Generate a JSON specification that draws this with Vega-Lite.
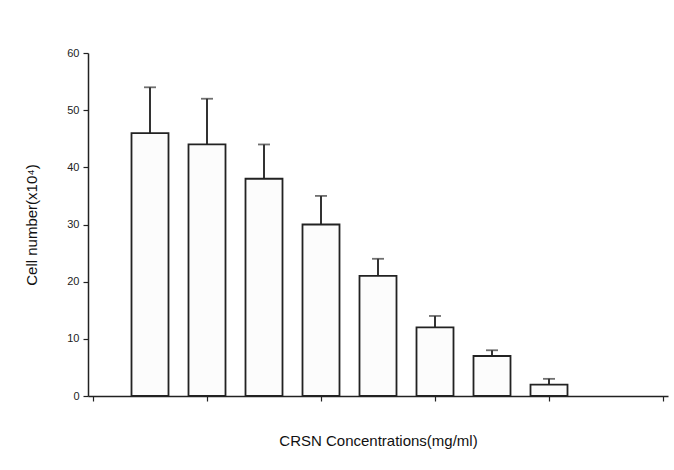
{
  "$schema": "https://vega.github.io/schema/vega-lite/v6.json",
  "width": 580,
  "height": 343,
  "autosize": {"type": "none"},
  "padding": {"left": 88, "top": 53, "right": 6, "bottom": 74},
  "background": "white",
  "config": {
    "view": {"stroke": null},
    "font": "Liberation Sans",
    "axis": {"grid": false, "domainColor": "#222", "tickColor": "#222", "labelColor": "#222", "titleColor": "#111", "domainWidth": 1.5, "tickWidth": 1.2}
  },
  "data": {
    "values": [
      {"conc": 1, "cells": 46, "upper": 54},
      {"conc": 2, "cells": 44, "upper": 52},
      {"conc": 3, "cells": 38, "upper": 44},
      {"conc": 4, "cells": 30, "upper": 35},
      {"conc": 5, "cells": 21, "upper": 24},
      {"conc": 6, "cells": 12, "upper": 14},
      {"conc": 7, "cells": 7, "upper": 8},
      {"conc": 8, "cells": 2, "upper": 3}
    ]
  },
  "encoding": {
    "x": {
      "field": "conc", "type": "quantitative",
      "scale": {"domain": [0, 10], "nice": false, "zero": false},
      "axis": {"values": [0, 2, 4, 6, 8, 10], "labels": false, "tickSize": 5, "title": "CRSN Concentrations(mg/ml)", "titleFontSize": 15, "titleFontWeight": "normal", "titlePadding": 32}
    }
  },
  "layer": [
    {
      "mark": {"type": "rule", "color": "#333", "strokeWidth": 2},
      "encoding": {
        "y": {"field": "cells", "type": "quantitative"},
        "y2": {"field": "upper"}
      }
    },
    {
      "mark": {"type": "tick", "orient": "horizontal", "size": 12, "thickness": 1.8, "color": "#333"},
      "encoding": {
        "y": {"field": "upper", "type": "quantitative"}
      }
    },
    {
      "mark": {"type": "bar", "size": 37, "fill": "#fcfcfc", "stroke": "#222", "strokeWidth": 1.8},
      "encoding": {
        "y": {
          "field": "cells", "type": "quantitative",
          "scale": {"domain": [0, 60], "nice": false},
          "axis": {"values": [0, 10, 20, 30, 40, 50, 60], "tickSize": 5, "labelFontSize": 11, "labelPadding": 4, "title": "Cell number(x10⁴)", "titleFontSize": 15, "titleFontWeight": "normal", "titlePadding": 27}
        }
      }
    }
  ]
}
